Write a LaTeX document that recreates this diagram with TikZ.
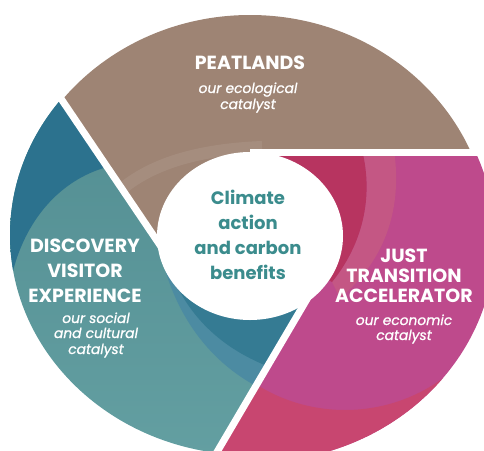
\documentclass[tikz,border=0pt]{standalone}
\usepackage{fontspec}
\setmainfont{Poppins}
\definecolor{brownc}{HTML}{9E8474}
\definecolor{pinkc}{HTML}{BE4A8C}
\definecolor{redpink}{HTML}{C84670}
\definecolor{crimson}{HTML}{B73460}
\definecolor{pinkband}{HTML}{C45784}
\definecolor{tealtop}{HTML}{4E898E}
\definecolor{tealbot}{HTML}{66A2A4}
\definecolor{tealdark}{HTML}{2C728E}
\definecolor{tealband}{HTML}{4C8BA2}
\definecolor{tealblue}{HTML}{357B93}
\definecolor{centertext}{HTML}{3B8C8D}
\begin{document}
\begin{tikzpicture}[x=1pt,y=-1pt,
  divider/.style={white,line width=7pt},
  ttl/.style={text=white,font=\fontsize{19}{22}\selectfont\bfseries,anchor=base,inner sep=0pt},
  sub/.style={text=white,font=\fontsize{13.8}{16}\selectfont\itshape\addfontfeature{FakeBold=0.9},anchor=base,inner sep=0pt},
  ctr/.style={text=centertext,font=\fontsize{18}{22}\selectfont\bfseries,anchor=base,inner sep=0pt}]
\useasboundingbox (0,0) rectangle (484,450);
\coordinate (c) at (250,236);
\coordinate (a1) at (166,254);
\coordinate (a2) at (20,38);
\coordinate (b1) at (250,152.5);
\coordinate (b2) at (540,152.5);
\coordinate (e1) at (310,294);
\coordinate (e2) at (177,520);
\begin{scope}
\clip (0,0) rectangle (484,450);
% brown segment
\begin{scope}
  \clip (c) -- (a1) -- (a2) -- (20,-60) -- (540,-60) -- (b2) -- (b1) -- cycle;
  \clip (250,240) ellipse [x radius=240pt, y radius=225pt];
  \fill[brownc] (0,-60) rectangle (540,300);
  \draw[white,opacity=0.08,line width=12pt] (108,202) .. controls (140,167) and (190,150) .. (262,147);
\end{scope}
% pink segment
\begin{scope}
  \clip (c) -- (b1) -- (b2) -- (540,520) -- (e2) -- (e1) -- cycle;
  \clip (255,240) ellipse [x radius=240pt, y radius=222pt];
  \fill[pinkc] (0,0) rectangle (540,520);
  \fill[redpink,even odd rule] (0,0) rectangle (540,520) (345,243) circle [radius=167pt];
  \fill[pinkband] (362,150) -- (394,150) .. controls (402,205) and (388,258) .. (340,298) -- (332,282) .. controls (362,245) and (374,198) .. (362,150) -- cycle;
  \fill[crimson] (c) -- (270,150) -- (362,150) .. controls (374,198) and (362,245) .. (332,282) -- cycle;
\end{scope}
% teal segment
\begin{scope}
  \clip (c) -- (a1) -- (a2) -- (-60,38) -- (-60,520) -- (e2) -- (e1) -- cycle;
  \clip (250,235) ellipse [x radius=240pt, y radius=220pt];
  \shade[top color=tealtop, bottom color=tealbot] (-60,0) rectangle (540,520);
  \fill[tealdark] (107,167) -- (a2) -- (-60,38) -- (-60,275) -- (12,275) .. controls (25,220) and (60,180) .. (107,167) -- cycle;
  \fill[tealband] (c) -- (160,250) .. controls (175,320) and (215,368) .. (268,392) -- (e1) -- cycle;
  \fill[tealblue] (c) -- (170,270) .. controls (188,318) and (225,352) .. (278,370) -- (e1) -- cycle;
\end{scope}
% centre disc
\fill[white] (c) ellipse [x radius=93pt, y radius=84pt];
% dividers
\draw[divider] (a1) -- (a2);
\draw[divider] (b1) -- (b2);
\draw[divider] (e1) -- (e2);
\end{scope}
% texts
\node[ttl] (peat) at (250,69) {PEATLANDS};
\node[sub] (peat1) at (248,93) {our ecological};
\node[sub] (peat2) at (248,109) {catalyst};
\node[ctr] (c1) at (248,204) {Climate};
\node[ctr] (c2) at (248,229) {action};
\node[ctr] (c3) at (248,254) {and carbon};
\node[ctr] (c4) at (248,279) {benefits};
\node[ttl] (d1) at (85,252) {DISCOVERY};
\node[ttl] (d2) at (85,277) {VISITOR};
\node[ttl] (d3) at (85,302) {EXPERIENCE};
\node[sub] (d4) at (96,323) {our social};
\node[sub] (d5) at (96,338) {and cultural};
\node[sub] (d6) at (96,354) {catalyst};
\node[ttl] (j1) at (404,262) {JUST};
\node[ttl] (j2) at (404,282) {TRANSITION};
\node[ttl] (j3) at (404,302) {ACCELERATOR};
\node[sub] (j4) at (404,325) {our economic};
\node[sub] (j5) at (404,340) {catalyst};
\end{tikzpicture}
\end{document}
